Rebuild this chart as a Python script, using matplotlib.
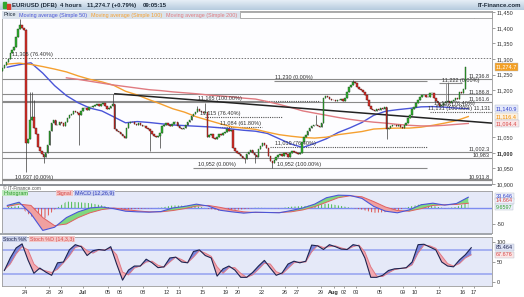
import numpy as np
import matplotlib
matplotlib.use('agg')
import matplotlib.pyplot as plt
from matplotlib.colors import LinearSegmentedColormap
from matplotlib.patches import Rectangle
import matplotlib.transforms as mtrans

W, H = 524, 297
plt.rcParams['font.family'] = ['Liberation Sans', 'DejaVu Sans']
plt.rcParams['hatch.linewidth'] = 0.6

# 4-hour closes, six bars per trading day (22 Jun .. 16 Aug)
closes = [
    11270, 11282, 11290, 11300, 11318, 11330,
    11340, 11372, 11395, 11410, 11398, 11392,
    11030, 11045, 11105, 11115, 11080, 11060,
    11020, 11005, 10995, 10985, 11000, 11025,
    11070, 11095, 11104, 11090, 11088, 11100,
    11095, 11085, 11100, 11112, 11120, 11125,
    11135, 11130, 11128, 11120, 11135, 11142,
    11142, 11138, 11145, 11148, 11150, 11152,
    11155, 11150, 11157, 11160, 11150, 11140,
    11142, 11150, 11155, 11075, 11070, 11068,
    11060, 11055, 11047, 11080, 11095, 11100,
    11098, 11092, 11090, 11094, 11088, 11085,
    11085, 11080, 11076, 11070, 11060, 11055,
    11050, 11055, 11062, 11085, 11090, 11095,
    11090, 11085, 11092, 11100, 11098, 11085,
    11078, 11075, 11080, 11090, 11098, 11106,
    11118, 11125, 11132, 11140, 11135, 11132,
    11128, 11130, 11050, 11058, 11060, 11048,
    11045, 11052, 11060, 11058, 11062, 11065,
    11075, 11070, 11072, 11015, 11005, 11000,
    10995, 10990, 10982, 10980, 10995, 11002,
    11010, 11000, 10992, 10985, 11012, 11022,
    11030, 11025, 11015, 10990, 10975, 10968,
    10978, 10985, 10992, 10996, 10990, 11000,
    10995, 10988, 10998, 11005, 11002, 10998,
    10995, 11000, 11035, 11050, 11058, 11070,
    11080, 11085, 11088, 11090, 11085, 11082,
    11095, 11175, 11182, 11178, 11172, 11170,
    11168, 11165, 11170, 11168, 11172, 11165,
    11175, 11195, 11210, 11218, 11228, 11225,
    11212, 11205, 11200, 11195, 11185, 11170,
    11150, 11140, 11138, 11135, 11140, 11138,
    11142, 11140, 11145, 11075, 11080, 11085,
    11090, 11088, 11085, 11090, 11084, 11080,
    11088, 11095, 11110, 11120, 11140, 11148,
    11160, 11170, 11180, 11184, 11186, 11180,
    11178, 11190, 11192, 11175, 11165, 11160,
    11150, 11152, 11158, 11162, 11165, 11158,
    11165, 11170, 11175, 11172, 11195, 11190,
    11205, 11274.7,
]
first_open = 11262
# long wicks: bar -> (high, low)
wicks = {9: (11428.1, None), 12: (11395, 10937), 14: (11195, None), 15: (11195, None),
         16: (11170, None), 21: (None, 10968), 39: (None, 11025), 56: (11189, None),
         75: (None, 11006), 80: (None, 11015), 99: (11150, None), 103: (11160, None),
         123: (None, 10968), 128: (None, 10968), 137: (None, 10952), 159: (11120, None),
         178: (11232, None), 195: (None, 11045), 226: (11222, None)}

# moving averages, one value per trading day
ma50 = [11274, 11282, 11288, 11255, 11215, 11183, 11160, 11143, 11134, 11115,
        11096, 11100, 11097, 11093, 11089, 11087, 11085, 11083, 11080, 11076,
        11072, 11069, 11062, 11045, 11028, 11017, 11030, 11045, 11065, 11080,
        11097, 11120, 11133, 11138, 11142, 11147, 11148, 11146, 11143, 11141]
ma100 = [11284, 11287, 11283, 11276, 11268, 11259, 11246, 11235, 11227, 11216,
         11197, 11185, 11170, 11156, 11141, 11130, 11115, 11104, 11093, 11083,
         11079, 11075, 11066, 11058, 11053, 11049, 11047, 11050, 11058, 11063,
         11068, 11076, 11078, 11079, 11079, 11082, 11088, 11095, 11103, 11116]
ma200 = [11240, 11235, 11229, 11223, 11217, 11212, 11207, 11202, 11199, 11195,
         11192, 11189, 11185, 11182, 11179, 11175, 11172, 11164, 11155, 11145,
         11134, 11127, 11120, 11113, 11107, 11102, 11098, 11095, 11091, 11088,
         11086, 11086, 11088, 11091, 11094]
ma200_first_day = 5

trend_days = [9.6, 41.5]
trend_prices = [11189, 11095]

# MACD (12,26,9), one value per trading day
macd = [8, 18, -18, -70, -60, -30, -12, 0, 3, -2, -10, -12, -13, -11, 0, 5, 12, 6, -7, -12,
        -16, -13, -14, -15, -8, 0, 12, 32, 40, 39, 30, 5, -10, -15, -6, 10, 15, 9, 14, 33.6]
signal = [5, 12, 8, -30, -55, -50, -30, -15, -5, 0, -5, -9, -12, -12, -8, -2, 6, 8, 2, -6,
          -12, -14, -14, -14, -12, -6, 4, 18, 32, 38, 35, 20, 3, -8, -10, -2, 8, 10, 11, 14.7]

# Stochastic (14,3,3), two values per trading day
stoch_k = [29, 60, 85, 95, 55, 22, 35, 25, 17, 48, 50, 80, 93, 88, 66, 78, 81, 79, 88, 45,
           5, 30, 40, 40, 57, 48, 36, 38, 60, 62, 50, 48, 76, 80, 66, 60, 15, 33, 40, 30,
           12, 12, 24, 40, 54, 35, 17, 23, 45, 52, 48, 52, 92, 90, 81, 93, 88, 82, 81, 93,
           90, 60, 12, 12, 17, 29, 33, 34, 36, 50, 93, 94, 87, 80, 50, 40, 38, 55, 68, 85.5]
stoch_d = [30, 45, 70, 88, 80, 45, 32, 28, 24, 32, 48, 65, 86, 90, 78, 72, 80, 80, 84, 68,
           25, 18, 35, 40, 50, 52, 42, 37, 50, 62, 56, 48, 62, 78, 72, 64, 38, 22, 36, 36,
           22, 12, 18, 32, 47, 45, 26, 20, 34, 48, 50, 50, 75, 91, 86, 88, 90, 85, 81, 88,
           92, 75, 38, 15, 14, 23, 31, 34, 35, 43, 72, 92, 90, 84, 65, 46, 40, 46, 60, 67.7]

tick_days = [2, 4, 5, 6.9, 9, 10, 12, 14, 15, 17, 19, 20, 22, 24, 25, 27, 28.1, 29, 30,
             32, 34, 35, 37, 39, 40]
tick_labels = ['24', '28', '29', 'Jul', '05', '06', '08', '12', '13', '15', '19', '20', '22',
               '26', '27', '29', 'Aug', '02', '03', '05', '09', '10', '12', '16', '17']

# ---------------------------------------------------------------
def axes_px(x0, y0, x1, y1, **kw):
    return fig.add_axes([x0 / W, 1 - y1 / H, (x1 - x0) / W, (y1 - y0) / H], **kw)

def day(px):
    return (px - 1.4) / 11.82

XL = (day(2), day(492))
FS = 4.0

fig = plt.figure(figsize=(W / 100, H / 100), dpi=100)
fig.patch.set_facecolor('white')

# header bar
axh = axes_px(0, 0, 524, 10)
cm = LinearSegmentedColormap.from_list('hdr', ['#e6eef6', '#b6cbde'])
axh.imshow(np.linspace(0, 1, 20).reshape(-1, 1), aspect='auto', cmap=cm, extent=(0, 1, 0, 1))
axh.set_axis_off()
axh.add_patch(Rectangle((0.006, 0.25), 0.006, 0.55, color='#2fa82f'))
axh.add_patch(Rectangle((0.013, 0.15), 0.006, 0.5, color='#d83a2a'))
for xp, s in [(12, 'EUR/USD (DFB)'), (60, '4 hours'), (87, '11,274.7 (+0.79%)'), (143, '09:05:15')]:
    fig.text(xp / W, 1 - 5.3 / H, s, fontsize=4.3, fontweight='bold', color='#1d2b3a', va='center')
fig.text(521 / W, 1 - 5.3 / H, 'IT-Finance.com', fontsize=4.3, fontweight='bold',
         color='#1d2b3a', va='center', ha='right')

# ---------------- price panel ----------------
ax = axes_px(2, 11, 492, 184)
ax.set_facecolor('#fdfdff')
ax.set_xlim(*XL)
ax.set_ylim(10908, 11454)

c = np.array(closes, dtype=float)
o = np.array([first_open] + closes[:-1], dtype=float)
hi = np.maximum(o, c)
lo = np.minimum(o, c)
for i, (wh, wl) in wicks.items():
    if wh is not None:
        hi[i] = wh
    if wl is not None:
        lo[i] = wl
xb = (np.arange(len(c)) + 0.5) / 6
ax.vlines(xb, lo, hi, color='#3a3a3a', lw=0.5, zorder=3)
body = np.where(np.abs(c - o) < 2, 2, c - o)
up = c >= o
ax.bar(xb[up], body[up], bottom=o[up], width=0.75 / 6, color='#30b030',
       edgecolor='#1b4d1b', lw=0.3, zorder=4)
ax.bar(xb[~up], body[~up], bottom=o[~up], width=0.75 / 6, color='#d8302a',
       edgecolor='#5a1410', lw=0.3, zorder=4)

ax.plot(np.arange(len(ma50)) + 0.5, ma50, color='#4a55d8', lw=1.0, zorder=2)
ax.plot(np.arange(len(ma100)) + 0.5, ma100, color='#f5a030', lw=1.0, zorder=2)
ax.plot(np.arange(len(ma200)) + 0.5 + ma200_first_day, ma200, color='#e07a80', lw=1.0, zorder=2)
ax.plot(trend_days, trend_prices, color='#222222', lw=1.1, zorder=2)

# retracement / level lines
solid = dict(color='#8a8a8a', lw=0.8, zorder=1)
dotted = dict(color='#555555', lw=0.8, ls=(0, (1, 1)), zorder=1)
ax.axhline(11305, ls=(0, (1.5, 1.5)), color='#777777', lw=0.7, zorder=1)
for lv in [11236.8, 11186.8, 11161.6, 11002.3, 10983]:
    ax.axhline(lv, **solid)
ax.axhline(10911.8, color='#8a8a8a', lw=1.6, zorder=1)
ax.hlines(11165, day(2), day(262), **solid)
ax.hlines(11167, day(262), day(320), **dotted)
ax.hlines(11230, day(274), day(427), **solid)
ax.hlines(11222, day(439), day(462), **solid)
ax.hlines(11115, day(205), day(282), **dotted)
ax.hlines(11084, day(215), day(262), **dotted)
ax.hlines(11019, day(270), day(427), **dotted)
ax.hlines(10952, day(193), day(427), **solid)
ax.hlines(11131, day(430), day(492), **dotted)
ax.hlines(11152, day(436), day(470), **dotted)
ax.vlines(day(446), 11165, 11222, color='#8a8a8a', lw=0.6, zorder=1)

lbl = dict(fontsize=FS, color='#333333', va='bottom', zorder=6)
ax.text(day(12), 11307, '11,305 (76.40%)', **lbl)
ax.text(day(275), 11232, '11,230 (0.00%)', **lbl)
ax.text(day(442), 11224, '11,222 (0.00%)', **lbl)
ax.text(day(198), 11167, '11,165 (100.00%)', **lbl)
ax.text(day(200), 11117, '11,115 (76.40%)', **lbl)
ax.text(day(220), 11086, '11,084 (61.80%)', **lbl)
ax.text(day(275), 11021, '11,019 (76.40%)', **lbl)
ax.text(day(198), 10954, '10,952 (0.00%)', **lbl)
ax.text(day(277), 10954, '10,952 (100.00%)', **lbl)
ax.text(day(15), 10912, '10,937 (0.00%)', **lbl)
ax.text(day(434), 11149, '11,152 (76.40%)', **lbl)
rl = dict(fontsize=FS, color='#333333', va='bottom', ha='right', zorder=6)
for lv, s in [(11428.1, '11,428.1'), (11236.8, '11,236.8'), (11186.8, '11,186.8'),
              (11161.6, '11,161.6'), (11002.3, '11,002.3'), (10983, '10,983'),
              (10911.8, '10,911.8'), (11131, '11,131 (100.00%) 11,131')]:
    ax.text(day(490), lv + 2, s, **rl)

yt = [10900, 10950, 11000, 11050, 11200, 11250, 11300, 11350, 11400, 11450]
ax.yaxis.tick_right()
ax.set_yticks(yt)
ax.set_yticklabels([f'{v:,}' for v in yt], fontsize=FS, color='#333333')
ax.get_yticklabels()[2].set_fontweight('bold')
ax.tick_params(axis='y', length=2, width=0.5, color='#777777', pad=1.5)
ax.set_xticks([])
for s in ax.spines.values():
    s.set_color('#9a9a9a')
    s.set_linewidth(0.6)

tr = mtrans.blended_transform_factory(ax.transAxes, ax.transData)
for v, s, fc, tc in [(11274.7, '11,274.7', '#f3a024', 'white'),
                     (11140.9, '11,140.9', '#e4e9fb', '#3040c8'),
                     (11116.4, '11,116.4', '#fdf1e0', '#f08a00'),
                     (11094.4, '11,094.4', '#fbe6e6', '#d84a4a')]:
    ax.text(1.008, v, s, transform=tr, fontsize=FS, color=tc, va='center', ha='left',
            bbox=dict(boxstyle='square,pad=0.2', fc=fc, ec='#b0b8c8', lw=0.3),
            clip_on=False, zorder=7)

# legend row
fig.patches.append(Rectangle((2 / W, 1 - 19 / H), 238 / W, 8 / H, transform=fig.transFigure,
                             fc='#dbe3ec', ec='none', zorder=3))
fig.patches.append(Rectangle((240 / W, 1 - 18 / H), 252 / W, 6 / H, transform=fig.transFigure,
                             fc='white', ec='#8a8a8a', lw=0.5, zorder=3))
for xp, s, col in [(3, 'Price', '#1d2b3a'), (19, 'Moving average (Simple 50)', '#4a55d8'),
                   (91, 'Moving average (Simple 100)', '#f5a030'),
                   (166, 'Moving average (Simple 200)', '#e07a80')]:
    fig.text(xp / W, 1 - 15 / H, s, fontsize=3.9, color=col, va='center', zorder=5)

# separators
fig.patches.append(Rectangle((0, 1 - 186 / H), 492 / W, 2 / H, transform=fig.transFigure,
                             fc='#8e9298', ec='none', zorder=3))
fig.patches.append(Rectangle((0, 1 - 235 / H), 492 / W, 2 / H, transform=fig.transFigure,
                             fc='#a3a7ad', ec='none', zorder=3))
fig.text(3 / W, 1 - 189 / H, '\u00a9 IT-Finance.com', fontsize=3.4, color='#555555', va='center')

# ---------------- MACD panel ----------------
axm = axes_px(2, 191, 492, 233)
axm.set_facecolor('#e5e9f8')
axm.set_xlim(*XL)
axm.set_ylim(-78, 53)
xm = np.arange(len(macd)) + 0.5
m = np.array(macd, dtype=float)
sg = np.array(signal, dtype=float)
hist = m - sg
axm.axhline(0, color='#7d8cf0', lw=1.0, zorder=1)
axm.fill_between(xm, 0, hist, where=hist >= 0, interpolate=True, facecolor='none',
                 edgecolor='#2fb52f', hatch='|||||', lw=0, zorder=2)
axm.fill_between(xm, 0, hist, where=hist < 0, interpolate=True, facecolor='none',
                 edgecolor='#e03a30', hatch='|||||', lw=0, zorder=2)
axm.fill_between(xm, m, sg, where=m >= sg, interpolate=True, color='#7fd87f', lw=0, zorder=3)
axm.fill_between(xm, m, sg, where=m < sg, interpolate=True, color='#f0a0a0', lw=0, zorder=3)
axm.plot(xm, sg, color='#e06060', lw=0.7, zorder=4)
axm.plot(xm, m, color='#4a55d8', lw=0.8, zorder=5)
axm.yaxis.tick_right()
axm.set_yticks([-50])
axm.set_yticklabels(['-50'], fontsize=FS, color='#333333')
axm.tick_params(axis='y', length=2, width=0.5, color='#777777', pad=1.5)
axm.set_xticks([])
for s in axm.spines.values():
    s.set_color('#9a9a9a')
    s.set_linewidth(0.6)
trm = mtrans.blended_transform_factory(axm.transAxes, axm.transData)
for v, s, tc in [(36, '33.646', '#3040c8'), (22, '14.664', '#d84a4a'), (3, '9.6597', '#2a9a2a')]:
    axm.text(1.008, v, s, transform=trm, fontsize=FS, color=tc, va='center', ha='left',
             bbox=dict(boxstyle='square,pad=0.12', fc='#eef1fb', ec='#b0b8c8', lw=0.3),
             clip_on=False, zorder=7)
for xp, s, col, fc in [(3, 'Histogram', '#2a9a2a', '#bfe8bf'), (57, 'Signal', '#d84a4a', '#f3c8c8'),
                       (75, 'MACD (12,26,9)', '#2d3ab8', '#c8cff0')]:
    axm.text(day(xp), 46, s, fontsize=3.9, color=col, va='center', ha='left', zorder=8,
             bbox=dict(boxstyle='square,pad=0.1', fc=fc, ec='none'))

# ---------------- Stochastic panel ----------------
axs = axes_px(2, 237, 492, 286)
axs.set_facecolor('#e5e9f8')
axs.set_xlim(*XL)
axs.set_ylim(-9.5, 112)
xs = np.arange(len(stoch_k)) / 2 + 0.25
k = np.array(stoch_k, dtype=float)
d = np.array(stoch_d, dtype=float)
axs.axhline(80, color='#9aa6f0', lw=1.2, zorder=1)
axs.axhline(20, color='#9aa6f0', lw=1.2, zorder=1)
axs.fill_between(xs, k, d, where=k >= d, interpolate=True, color='#7a86dc', lw=0, zorder=2)
axs.fill_between(xs, k, d, where=k < d, interpolate=True, color='#f2a8b0', lw=0, zorder=2)
axs.plot(xs, d, color='#e07a85', lw=0.7, zorder=3)
axs.plot(xs, k, color='#1e2450', lw=0.8, zorder=4)
axs.yaxis.tick_right()
axs.set_yticks([0, 50, 100])
axs.set_yticklabels(['0', '50', '100'], fontsize=FS, color='#333333')
axs.tick_params(axis='y', length=2, width=0.5, color='#777777', pad=1.5)
axs.set_xticks(tick_days)
axs.set_xticklabels(tick_labels, fontsize=FS, color='#333333')
for t in axs.get_xticklabels():
    if t.get_text() in ('Jul', 'Aug'):
        t.set_fontweight('bold')
axs.tick_params(axis='x', length=1.5, width=0.5, color='#777777', pad=1.5)
for s in axs.spines.values():
    s.set_color('#9a9a9a')
    s.set_linewidth(0.6)
trs = mtrans.blended_transform_factory(axs.transAxes, axs.transData)
for v, s, tc, fc in [(85.5, '85.464', '#1e2450', '#dfe4f5'), (67.7, '67.676', '#d84a4a', '#fbe6e6')]:
    axs.text(1.008, v, s, transform=trs, fontsize=FS, color=tc, va='center', ha='left',
             bbox=dict(boxstyle='square,pad=0.15', fc=fc, ec='#b0b8c8', lw=0.3),
             clip_on=False, zorder=7)
axs.text(day(3), 106, 'Stoch %K', fontsize=3.9, color='#1e2450', va='center', zorder=8,
         bbox=dict(boxstyle='square,pad=0.1', fc='#c8cfe8', ec='none'))
axs.text(day(30), 106, 'Stoch %D (14,3,3)', fontsize=3.9, color='#d84a4a', va='center', zorder=8,
         bbox=dict(boxstyle='square,pad=0.1', fc='#f3c8c8', ec='none'))

fig.savefig('out.png', dpi=100)
